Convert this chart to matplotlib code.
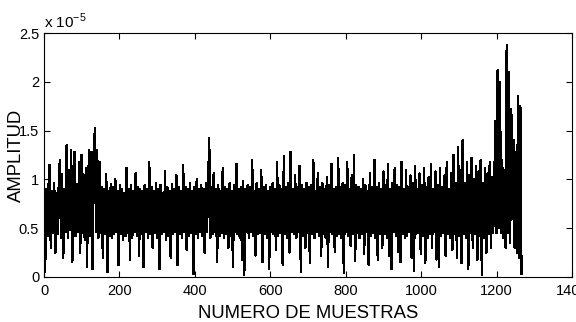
import numpy as np
import matplotlib
matplotlib.use("Agg")
import matplotlib.pyplot as plt

plt.rcParams['font.family'] = ['Liberation Sans', 'DejaVu Sans']

# amplitude, one value every 3 samples, units of 1e-7
amp = [
    75, 5, 90, 42, 92, 115, 30, 88, 45, 96, 25, 86, 44, 92, 120, 40, 105, 20, 90, 46,
    135, 40, 110, 48, 130, 15, 100, 128, 42, 95, 46, 118, 25, 125, 45, 105, 38, 112, 10, 98,
    130, 42, 128, 8, 125, 153, 46, 130, 40, 118, 45, 92, 20, 90, 44, 105, 5, 88, 42, 95,
    40, 92, 44, 100, 46, 88, 12, 94, 44, 90, 38, 86, 42, 112, 45, 90, 18, 94, 40, 88,
    46, 106, 42, 92, 22, 90, 44, 88, 10, 94, 46, 90, 40, 118, 44, 92, 30, 88, 45, 96,
    40, 90, 8, 94, 44, 86, 46, 108, 38, 92, 42, 88, 20, 95, 44, 90, 46, 104, 12, 92,
    44, 88, 40, 115, 46, 92, 28, 90, 42, 96, 45, 88, 3, 92, 44, 100, 40, 90, 46, 94,
    42, 90, 25, 96, 46, 88, 142, 40, 92, 44, 106, 46, 90, 15, 94, 42, 88, 45, 112, 40,
    92, 44, 90, 30, 96, 42, 88, 10, 94, 46, 116, 44, 90, 40, 92, 18, 98, 2, 90, 46,
    94, 40, 92, 46, 120, 42, 88, 22, 96, 44, 90, 45, 110, 15, 92, 44, 94, 40, 88, 8,
    92, 46, 96, 44, 90, 28, 118, 42, 94, 45, 90, 12, 124, 44, 92, 40, 96, 25, 128, 46,
    90, 44, 104, 40, 92, 46, 114, 5, 94, 42, 90, 30, 96, 45, 92, 14, 94, 44, 120, 40,
    88, 46, 106, 42, 92, 22, 96, 44, 90, 40, 102, 10, 94, 46, 116, 44, 90, 26, 92, 42,
    122, 44, 92, 40, 96, 4, 94, 46, 118, 42, 90, 32, 104, 44, 125, 16, 94, 45, 92, 40,
    90, 44, 100, 24, 94, 46, 88, 12, 106, 42, 92, 45, 120, 40, 92, 18, 96, 44, 90, 30,
    108, 44, 94, 40, 116, 22, 90, 8, 96, 46, 112, 42, 94, 26, 92, 15, 118, 44, 90, 40,
    110, 42, 92, 46, 104, 20, 96, 6, 114, 44, 90, 45, 106, 24, 94, 42, 112, 14, 92, 40,
    102, 44, 116, 30, 90, 46, 108, 18, 94, 10, 112, 42, 92, 45, 104, 22, 118, 44, 90, 40,
    106, 28, 125, 44, 96, 20, 133, 42, 110, 14, 140, 44, 96, 40, 118, 8, 104, 45, 122, 30,
    100, 44, 114, 18, 108, 42, 120, 2, 96, 40, 112, 25, 106, 44, 118, 30, 102, 45,
    # burst near the end
    95, 160, 45, 212, 50, 200, 45, 120, 40, 110, 30, 238, 45, 210, 35, 172, 60, 140,
    30, 128, 25, 185, 20, 175, 3,
]
step = 3
xticks = [0, 200, 400, 600, 800, 1000, 1200, 1400]
yticks = [0, 0.5, 1, 1.5, 2, 2.5]

n = np.arange(len(amp)) * step
y = np.array(amp) / 100.0   # in units of 1e-5

fig = plt.figure(figsize=(5.76, 3.22), dpi=100)
ax = fig.add_axes([0.0764, 0.1398, 0.9166, 0.7577])
ax.plot(n, y, color='black', linewidth=1.0, antialiased=False)

ax.set_xlim(0, 1400)
ax.set_ylim(0, 2.5)
ax.set_xticks(xticks)
ax.set_yticks(yticks)
ax.set_yticklabels(['%g' % t for t in yticks])
ax.tick_params(direction='in', top=True, right=True, length=4, labelsize=10.5)
ax.tick_params(axis='x', pad=5)
for s in ax.spines.values():
    s.set_linewidth(0.8)

ax.set_xlabel('NUMERO DE MUESTRAS', fontsize=13.3, labelpad=5)
ax.set_ylabel('AMPLITUD', fontsize=13.3)
ax.yaxis.set_label_coords(-0.036, 0.5)
ax.text(0.0, 1.01, r'x 10$^{\mathregular{-5}}$', transform=ax.transAxes,
        fontsize=11, va='bottom', ha='left')

fig.savefig('out.png', dpi=100)
